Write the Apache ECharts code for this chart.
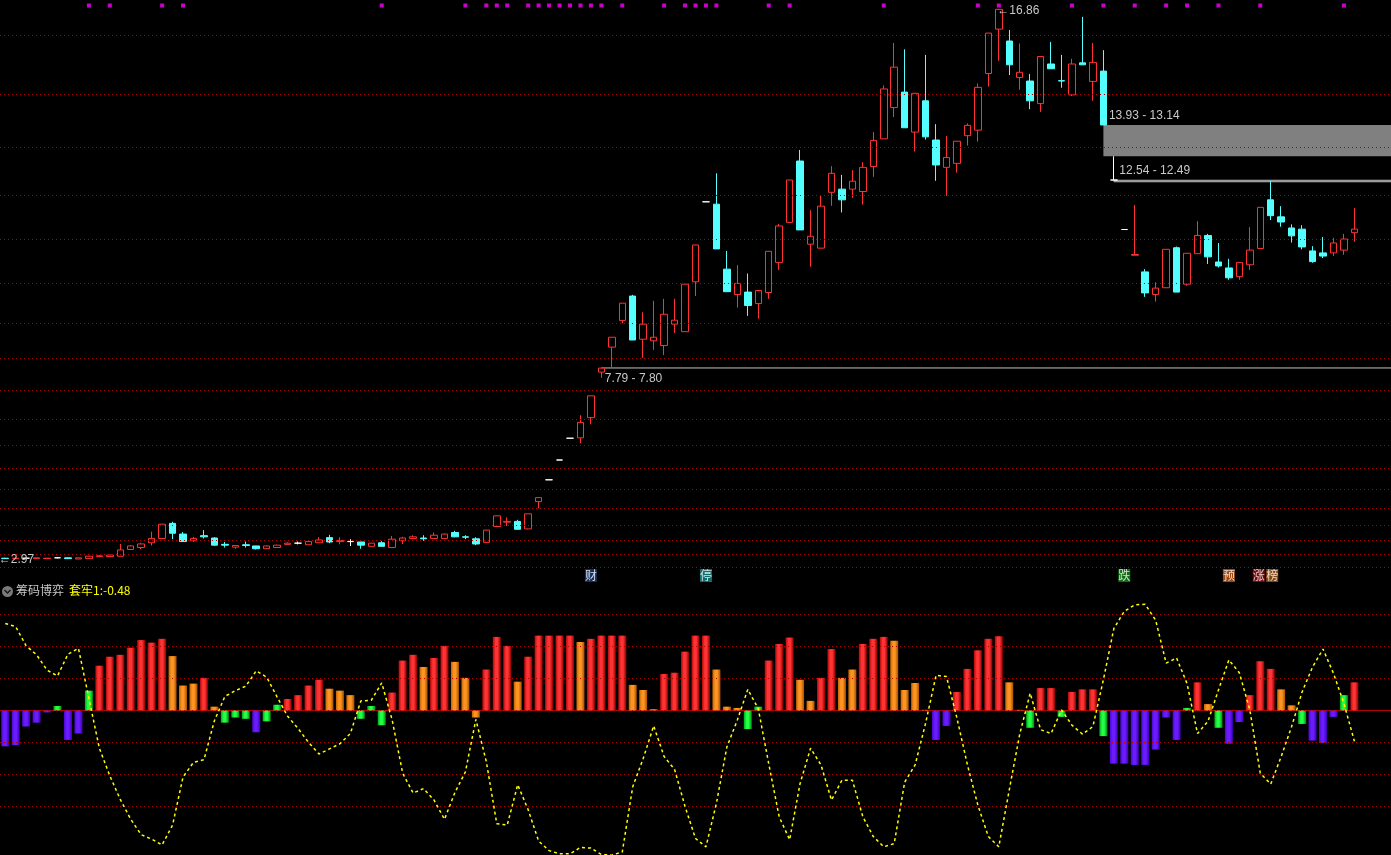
<!DOCTYPE html>
<html><head><meta charset="utf-8">
<script src="https://cdn.jsdelivr.net/npm/echarts@6/dist/echarts.min.js"></script>
<style>html,body{margin:0;padding:0;background:#000;overflow:hidden}#c{width:1391px;height:855px}</style>
</head><body><div id="c"></div>
<script>
// ---------- DATA ----------
const opens  = [2.99,2.98,2.99,2.98,2.98,3.00,3.00,2.97,2.98,3.03,3.03,3.04,3.21,3.26,3.38,3.49,3.87,3.60,3.43,3.56,3.50,3.34,3.27,3.33,3.30,3.23,3.26,3.34,3.37,3.33,3.38,3.51,3.41,3.41,3.40,3.29,3.38,3.26,3.43,3.49,3.50,3.49,3.49,3.64,3.53,3.48,3.39,3.79,3.90,3.92,3.73,4.42,4.97,5.47,6.02,6.03,6.54,7.69,8.32,8.99,9.61,8.52,8.48,8.36,8.90,8.71,9.97,11.99,11.93,10.29,9.65,9.71,9.42,9.70,10.46,11.47,13.02,10.92,10.82,12.23,12.31,12.31,12.25,12.88,13.58,14.37,14.76,13.75,14.54,13.55,12.86,12.96,13.66,13.80,15.23,16.35,16.05,15.13,15.04,14.47,15.47,15.05,14.69,15.50,15.03,15.29,12.54,11.29,10.64,10.22,9.65,9.82,10.83,9.91,10.68,11.14,10.47,10.32,10.10,10.40,10.81,12.04,11.61,11.33,11.30,10.75,10.70,10.70,10.77,11.21];
const closes = [2.98,2.99,2.99,3.00,2.99,3.00,2.98,3.00,3.04,3.05,3.07,3.20,3.30,3.35,3.49,3.85,3.62,3.41,3.49,3.53,3.32,3.32,3.31,3.31,3.23,3.30,3.32,3.37,3.37,3.41,3.45,3.40,3.44,3.41,3.32,3.37,3.29,3.47,3.50,3.53,3.48,3.57,3.60,3.53,3.52,3.35,3.70,4.06,3.92,3.72,4.11,4.52,4.97,5.47,6.02,6.42,7.09,7.79,8.57,9.43,8.50,8.90,8.57,9.15,9.00,9.91,10.90,11.99,10.80,9.72,9.93,9.37,9.75,10.74,11.38,12.54,11.28,11.12,11.88,12.71,12.04,12.51,12.86,13.54,14.84,15.39,13.86,14.73,13.63,12.92,13.11,13.52,13.92,14.88,16.25,16.85,15.45,15.26,14.54,15.66,15.35,15.04,15.47,15.45,15.51,13.93,12.54,11.29,10.66,9.69,9.81,10.79,9.71,10.69,11.14,10.60,10.37,10.07,10.46,10.77,11.85,11.64,11.48,11.13,10.85,10.48,10.62,10.95,11.05,11.30];
const lows   = [2.97,2.98,2.98,2.98,2.98,2.99,2.97,2.97,2.98,3.03,3.02,3.04,3.20,3.22,3.31,3.49,3.47,3.40,3.40,3.49,3.31,3.26,3.23,3.26,3.21,3.22,3.25,3.33,3.34,3.33,3.38,3.37,3.34,3.30,3.23,3.29,3.29,3.26,3.35,3.49,3.43,3.49,3.48,3.52,3.47,3.32,3.39,3.79,3.80,3.72,3.72,4.25,4.97,5.47,6.02,5.89,6.37,7.55,7.80,8.92,8.50,8.05,8.25,8.12,8.68,8.71,9.61,11.99,10.80,9.72,9.32,9.11,9.04,9.54,10.27,11.47,11.28,10.35,10.82,11.89,11.72,12.09,11.92,12.62,13.58,14.13,13.86,13.26,13.56,12.52,12.14,12.73,13.41,13.51,14.90,15.55,15.19,14.82,14.33,14.26,15.35,14.87,14.66,15.45,14.54,13.93,12.54,11.29,10.64,9.59,9.47,9.82,9.71,9.87,10.68,10.42,10.33,10.02,10.02,10.27,10.81,11.53,11.36,10.96,10.79,10.45,10.57,10.62,10.65,10.98];
const highs  = [3.00,3.00,3.00,3.00,2.99,3.02,3.01,3.00,3.04,3.06,3.07,3.35,3.32,3.38,3.66,3.85,3.91,3.65,3.53,3.70,3.52,3.40,3.31,3.41,3.30,3.31,3.33,3.39,3.41,3.41,3.52,3.58,3.52,3.47,3.40,3.37,3.42,3.55,3.53,3.57,3.57,3.64,3.61,3.68,3.57,3.52,3.70,4.07,4.02,3.96,4.11,4.52,4.97,5.47,6.02,6.60,7.09,7.79,8.57,9.43,9.64,9.20,9.49,9.54,9.54,9.91,10.90,11.99,12.71,10.75,10.39,10.18,9.75,10.74,11.43,12.54,13.30,11.78,12.15,12.89,12.67,12.79,12.99,13.75,14.93,16.00,15.84,14.73,15.70,13.95,13.65,13.52,13.97,14.98,16.25,16.86,16.33,15.99,15.22,15.66,16.03,15.70,15.60,16.66,16.00,15.82,13.14,11.29,11.91,10.29,9.96,10.79,10.86,10.69,11.50,11.18,10.95,10.55,10.46,11.35,11.85,12.52,11.88,11.42,11.40,10.87,11.10,11.08,11.18,11.83];

// price levels of the dotted grid (10% steps)
const priceGrid = [16.20,14.705,13.374,12.162,11.046,9.932,8.925,8.038,7.238,6.505,5.849,5.268,4.738,4.258,3.829,3.450,3.089,2.768];

// price gaps: [day, from, to]
const gapDays  = [57, 105, 106];
const gapFrom  = [7.79, 13.93, 12.54];
const gapTo    = [7.80, 13.14, 12.49];

// magenta signal dots (day indices)
const dotDays = [8,10,15,17,36,44,46,47,48,50,51,52,53,54,55,56,57,59,63,65,66,67,68,73,75,84,93,95,102,105,108,111,113,116,120,128];

// event tags
const eventDays  = [56, 67, 107, 117, 120, 121];
const eventTexts = ['财','停','跌','预','涨','榜'];

// 筹码博弈 indicator
const flowValues = [-0.56,-0.54,-0.25,-0.19,-0.03,0.07,-0.46,-0.36,0.31,0.70,0.84,0.87,0.98,1.10,1.06,1.12,0.85,0.39,0.42,0.51,0.06,-0.19,-0.11,-0.13,-0.34,-0.17,0.09,0.18,0.24,0.39,0.48,0.34,0.31,0.24,-0.13,0.07,-0.23,0.28,0.78,0.87,0.68,0.82,1.01,0.76,0.51,-0.11,0.64,1.15,1.01,0.45,0.84,1.17,1.17,1.17,1.17,1.07,1.12,1.17,1.17,1.17,0.40,0.32,0.02,0.57,0.59,0.92,1.17,1.17,0.64,0.06,0.04,-0.29,0.06,0.78,1.04,1.14,0.48,0.15,0.51,0.96,0.51,0.64,1.04,1.12,1.15,1.09,0.32,0.43,0.01,-0.46,-0.24,0.29,0.65,0.94,1.12,1.16,0.44,0.01,-0.27,0.35,0.35,-0.10,0.29,0.33,0.33,-0.40,-0.83,-0.83,-0.85,-0.85,-0.61,-0.11,-0.46,0.04,0.44,0.10,-0.27,-0.52,-0.18,0.24,0.77,0.65,0.33,0.08,-0.21,-0.47,-0.51,-0.10,0.24,0.44];
// bar kind per day: r = strong, o = weak, g = turning, p = trapped
const flowTypes = [
  'pppppgppgr','rrrrrrooor','ogggpggrrr','rooogggrrr','orrooorrro',
  'rrrrrorrrr','ooorrrrroo','oggrrroorr','oorrroooop','prrrrroogr',
  'rgrrrgpppp','pppgrogppr','rroogpppgr'
].join('').split('');
const trapLine = [1.36,1.31,1.01,0.87,0.63,0.54,0.88,0.97,0.19,-0.59,-1.02,-1.39,-1.70,-1.94,-2.01,-2.10,-1.79,-1.04,-0.81,-0.77,-0.16,0.22,0.31,0.38,0.62,0.52,0.21,-0.09,-0.28,-0.50,-0.68,-0.60,-0.52,-0.36,0.15,0.16,0.43,-0.15,-0.98,-1.29,-1.22,-1.40,-1.70,-1.28,-0.96,-0.14,-0.80,-1.77,-1.79,-1.16,-1.55,-2.04,-2.19,-2.24,-2.24,-2.14,-2.15,-2.25,-2.26,-2.21,-1.19,-0.75,-0.24,-0.72,-0.92,-1.50,-2.00,-2.13,-1.45,-0.57,-0.15,0.33,0.03,-0.83,-1.66,-2.02,-1.14,-0.59,-0.85,-1.40,-1.09,-1.09,-1.66,-1.97,-2.13,-2.08,-1.12,-0.85,-0.20,0.55,0.53,-0.12,-0.85,-1.48,-1.97,-2.13,-1.24,-0.37,0.27,-0.30,-0.36,0.01,-0.23,-0.37,-0.25,0.48,1.28,1.55,1.65,1.66,1.41,0.74,0.82,0.42,-0.36,-0.17,0.32,0.79,0.59,0.01,-0.98,-1.15,-0.72,-0.25,0.29,0.68,0.96,0.58,0.11,-0.48];
const subGrid = [1.5, 1.0, 0.5, 0, -0.5, -1.0, -1.5];

// ---------- BUILD ----------
const N = opens.length, PAD = 3;
const cats = Array.from({length: N + PAD}, (_, i) => String(i));
const chart = echarts.init(document.getElementById('c'));
const FONT = 'Liberation Sans, Arial, sans-serif';
const CJK = 'Noto Sans CJK SC, sans-serif';

const WHITE = {color:'#ffffff', color0:'#ffffff', borderColor:'#ffffff', borderColor0:'#ffffff'};
const candleData = opens.map((o, i) => {
  const it = {value: [o, closes[i], lows[i], highs[i]]};
  if (o === closes[i]) it.itemStyle = WHITE;
  return it;
});

const grad = (edge, mid, edge2) => new echarts.graphic.LinearGradient(0, 0, 1, 0, [
  {offset: 0, color: edge}, {offset: 0.35, color: mid}, {offset: 0.6, color: mid}, {offset: 1, color: edge2}]);
const typeColor = {
  r: grad('#b00808', '#ff3333', '#8a0000'),
  o: grad('#c06400', '#ff9422', '#a05000'),
  g: grad('#00a818', '#22ff44', '#008a10'),
  p: grad('#4a08d0', '#6a1cff', '#3c00b0')
};
const eventColor = {'财':'#1c3a78','停':'#138a8a','跌':'#148a14','预':'#c85a14','涨':'#9a0c0c','榜':'#a85a14'};

let iMax = 0, iMin = 0;
highs.forEach((h, i) => { if (h > highs[iMax]) iMax = i; });
lows.forEach((l, i) => { if (l < lows[iMin]) iMin = i; });

const labelPts = [
  {coord: [iMax, highs[iMax]], label: {formatter: '\u2190' + highs[iMax].toFixed(2), position: [-1, -4]}},
  {coord: [iMin, lows[iMin]], label: {formatter: '\u2190' + lows[iMin].toFixed(2), position: [-6, -5]}}
];
gapDays.forEach((d, k) => {
  const up = gapTo[k] > gapFrom[k];
  labelPts.push({coord: [d, up ? gapTo[k] : gapFrom[k]],
    label: {formatter: gapFrom[k].toFixed(2) + ' - ' + gapTo[k].toFixed(2), position: up ? [4, 5] : [6, -15]}});
});

const gapAreas = gapDays.map((d, k) => {
  const hi = Math.max(gapFrom[k], gapTo[k]), lo = Math.min(gapFrom[k], gapTo[k]);
  const thin = hi - lo < 0.1;
  return [{xAxis: d, yAxis: hi, itemStyle: thin ? {color:'#9a9a9a', borderColor:'#9a9a9a', borderWidth:0.6} : {color:'#808080', borderWidth:0}},
          {yAxis: lo}];
});

// adjacent event tags sit side by side
const eventData = eventDays.map((d, k) => {
  let off = 0;
  if (k > 0 && d - eventDays[k - 1] === 1) off = 1.5;
  if (k < eventDays.length - 1 && eventDays[k + 1] - d === 1) off = -1.5;
  return {value: [d, 0], name: eventTexts[k], symbolOffset: [off, 0], itemStyle: {color: eventColor[eventTexts[k]]}};
});

const option = {
  backgroundColor: '#000',
  animation: false,
  grid: [
    {left: 0, top: 0, width: 1392, height: 583},
    {left: 0, top: 583, width: 1392, height: 272},
    {left: 0, top: 3.5, width: 1392, height: 4},
    {left: 0, top: 569, width: 1392, height: 13}
  ],
  xAxis: [0, 1, 2, 3].map(g => ({
    type: 'category', gridIndex: g, data: cats, boundaryGap: true,
    show: g === 1, position: g === 1 ? 'top' : 'bottom',
    axisLine: {show: g === 1, lineStyle: {color: '#b00000', width: 1}},
    axisTick: {show: false}, axisLabel: {show: false}, splitLine: {show: false}
  })),
  yAxis: [
    {gridIndex: 0, type: 'value', min: 2.364, max: 17.086, show: false},
    {gridIndex: 1, type: 'value', min: -2.258, max: 1.992, show: false},
    {gridIndex: 2, type: 'value', min: -1, max: 1, show: false},
    {gridIndex: 3, type: 'value', min: -1, max: 1, show: false}
  ],
  series: [
    { // main grid lines + gap areas
      type: 'line', xAxisIndex: 0, yAxisIndex: 0, data: [], z: 1, silent: true,
      markLine: {silent: true, symbol: ['none', 'none'], label: {show: false},
        lineStyle: {color: '#b00000', type: [1, 3], width: 1}, emphasis: {disabled: true},
        data: priceGrid.map(p => ({yAxis: p}))},
      markArea: {silent: true, label: {show: false}, data: gapAreas}
    },
    {
      type: 'candlestick', xAxisIndex: 0, yAxisIndex: 0, z: 3, barWidth: 7,
      data: candleData,
      itemStyle: {color: '#000', color0: '#54ffff', borderColor: '#ff3232', borderColor0: '#54ffff', borderWidth: 1},
      markPoint: {
        silent: true, symbol: 'circle', symbolSize: 1, itemStyle: {color: 'rgba(0,0,0,0)'},
        label: {show: true, color: '#c8c8c8', fontSize: 12, fontFamily: FONT, align: 'left', verticalAlign: 'top'},
        data: labelPts
      }
    },
    {
      type: 'scatter', xAxisIndex: 2, yAxisIndex: 2, symbol: 'rect', symbolSize: 4, silent: true,
      itemStyle: {color: '#ff00ff'}, data: dotDays.map(d => [d, 0])
    },
    {
      type: 'scatter', xAxisIndex: 3, yAxisIndex: 3, symbol: 'rect', symbolSize: [12, 13], silent: true,
      data: eventData,
      label: {show: true, position: 'inside', formatter: '{b}', color: '#ffffff', fontSize: 12, fontFamily: CJK}
    },
    { // sub panel grid lines
      type: 'line', xAxisIndex: 1, yAxisIndex: 1, data: [], z: 1, silent: true,
      markLine: {silent: true, symbol: ['none', 'none'], label: {show: false},
        lineStyle: {color: '#b00000', type: [1, 3], width: 1},
        data: subGrid.map(v => ({yAxis: v}))}
    },
    {
      type: 'bar', xAxisIndex: 1, yAxisIndex: 1, barWidth: 8, z: 3, silent: true,
      data: flowValues.map((v, i) => ({value: v, itemStyle: {color: typeColor[flowTypes[i]]}}))
    },
    {
      type: 'line', xAxisIndex: 1, yAxisIndex: 1, z: 5, silent: true, symbol: 'none',
      lineStyle: {color: '#ffff00', width: 1.5, type: [3, 3]},
      data: trapLine
    }
  ],
  graphic: [
    {type: 'circle', left: 2, top: 586, shape: {r: 5.5}, style: {fill: '#7a7a7a'}},
    {type: 'polyline', shape: {points: [[4.5, 590], [7.5, 593], [10.5, 590]]}, style: {stroke: '#1a1a1a', lineWidth: 1.5, fill: null}},
    {type: 'text', left: 16, top: 584, style: {text: '筹码博弈', fill: '#c8c8c8', font: '12px ' + CJK}},
    {type: 'text', left: 69, top: 584, style: {text: '套牢1:' + trapLine[N - 1].toFixed(2), fill: '#ffff00', font: '12px ' + CJK}}
  ]
};
chart.setOption(option);
</script></body></html>
